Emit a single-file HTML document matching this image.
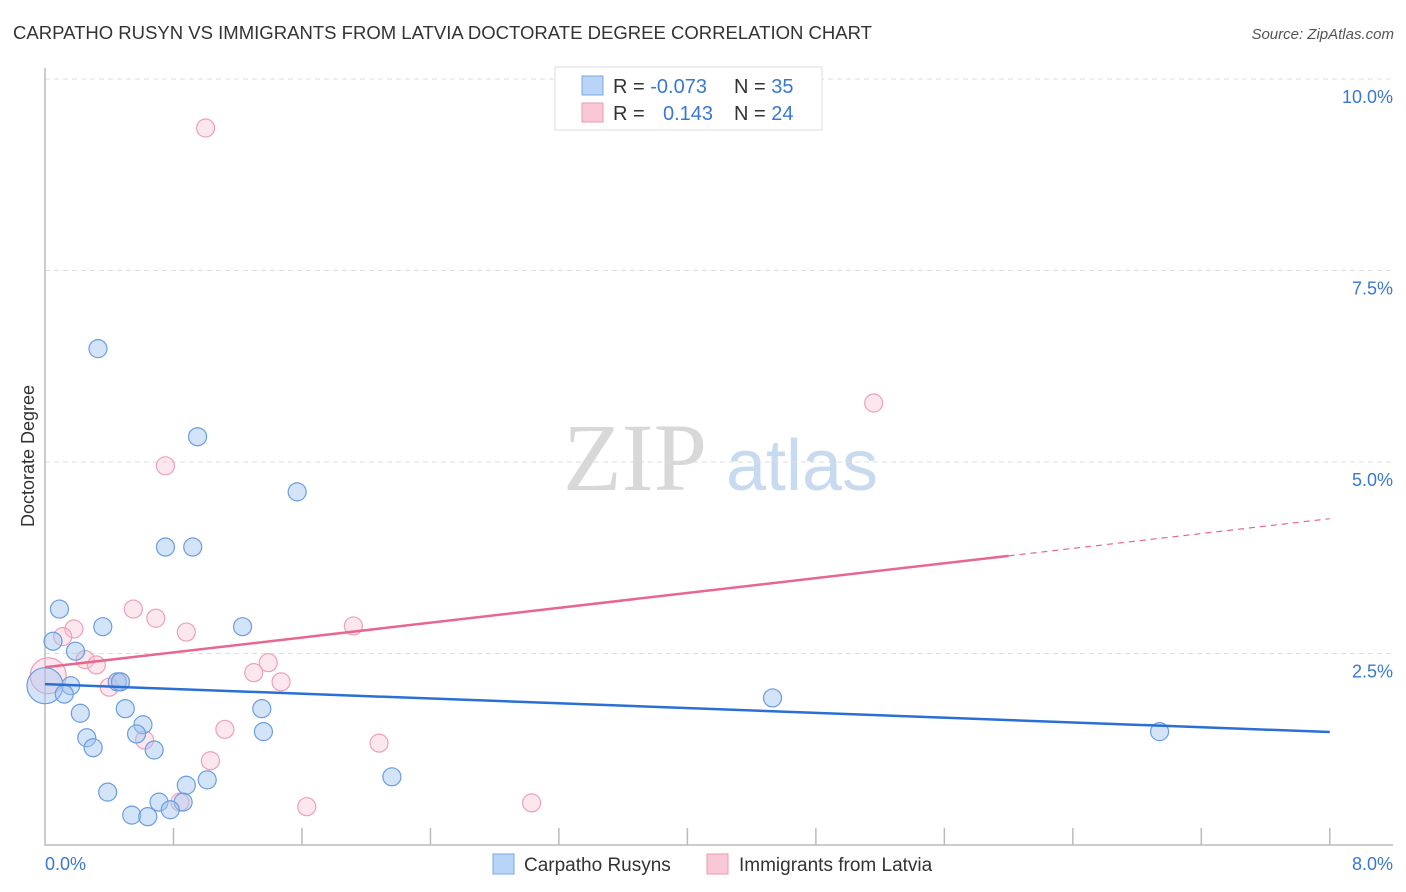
<!DOCTYPE html>
<html><head><meta charset="utf-8"><style>
body{margin:0;background:#fff;font-family:"Liberation Sans",sans-serif}
svg{display:block}
</style></head><body>
<svg id="c" width="1406" height="892" viewBox="0 0 1406 892">
<text x="13" y="39" font-size="18" fill="#333" textLength="859" lengthAdjust="spacingAndGlyphs">CARPATHO RUSYN VS IMMIGRANTS FROM LATVIA DOCTORATE DEGREE CORRELATION CHART</text>
<text x="1394" y="39" font-size="15" fill="#555" font-style="italic" text-anchor="end">Source: ZipAtlas.com</text>
<text x="34" y="456" font-size="18" fill="#333" text-anchor="middle" transform="rotate(-90 34 456)">Doctorate Degree</text>
<g>
<text x="635" y="490" font-size="96" font-family="Liberation Serif" fill="#d8d8d8" text-anchor="middle">ZIP</text>
<text x="802" y="490" font-size="72" fill="#c8daf0" text-anchor="middle">atlas</text>
</g>
<g id="grid"></g><g id="marks"></g>
<g>
<rect x="555" y="67" width="267" height="63" fill="#fff" stroke="#ddd"/>
<rect x="582" y="76" width="21" height="19" fill="#b8d4f6" stroke="#7aa8e4"/>
<rect x="582" y="103" width="21" height="19" fill="#f9c8d6" stroke="#ec9ab3"/>
<text x="613" y="93" font-size="20" fill="#333">R = <tspan fill="#3a78d0">-0.073</tspan></text>
<text x="734" y="93" font-size="20" fill="#333">N = <tspan fill="#3a78d0">35</tspan></text>
<text x="613" y="120" font-size="20" fill="#333">R = <tspan fill="#3a78d0" x="663">0.143</tspan></text>
<text x="734" y="120" font-size="20" fill="#333">N = <tspan fill="#3a78d0">24</tspan></text>
</g>
<g>
<rect x="493" y="854" width="21" height="20" fill="#b8d4f6" stroke="#7aa8e4"/>
<text x="524" y="871" font-size="19" fill="#333">Carpatho Rusyns</text>
<rect x="707" y="854" width="21" height="20" fill="#f9c8d6" stroke="#ec9ab3"/>
<text x="739" y="871" font-size="19" fill="#333">Immigrants from Latvia</text>
</g>
</svg>
<script>
const blueX=[0.33,0.95,1.57,0.75,0.92,0.09,0.36,1.23,0.05,0.19,0.0,0.16,0.12,0.45,0.47,4.53,0.22,0.50,1.35,0.61,0.26,0.57,1.36,0.30,0.68,6.94,2.16,0.88,1.01,0.39,0.71,0.86,0.78,0.54,0.64];
const blueY=[6.48,5.33,4.61,3.89,3.89,3.08,2.85,2.85,2.66,2.53,2.08,2.08,1.97,2.13,2.13,1.92,1.72,1.78,1.78,1.57,1.40,1.45,1.48,1.27,1.24,1.48,0.89,0.78,0.85,0.69,0.56,0.56,0.46,0.39,0.37];
const pinkX=[1.00,5.16,0.75,0.55,0.69,0.88,1.92,0.18,0.11,0.25,0.32,1.39,1.30,1.47,0.40,0.47,0.62,1.12,1.03,2.08,0.84,1.63,3.03,0.02];
const pinkY=[9.36,5.77,4.95,3.08,2.96,2.78,2.86,2.82,2.72,2.42,2.35,2.38,2.25,2.13,2.06,2.13,1.37,1.51,1.10,1.33,0.56,0.50,0.55,2.21];
const blueTrend=[2.10,1.475];
const pinkTrend=[2.32,4.26];
const pinkSolidEnd=6.0;
const yTicks=[2.5,5.0,7.5,10.0];
const xTickLabels=["0.0%","8.0%"];
const X=v=>45+v*160.6, Y=v=>845-v*76.6;
const NS="http://www.w3.org/2000/svg";
function mk(t,a,p){const e=document.createElementNS(NS,t);for(const k in a)e.setAttribute(k,a[k]);p.appendChild(e);return e;}
const g=document.getElementById('grid'), m=document.getElementById('marks');
yTicks.forEach(v=>{
 const l=mk('line',{x1:45,x2:1393,y1:Y(v),y2:Y(v),stroke:'#ddd','stroke-dasharray':'5,4'},g);
 
 
 const t=mk('text',{x:1393,y:Y(v)+24,'font-size':18,fill:'#3a78d0','text-anchor':'end'},g);
 t.textContent=v.toFixed(1)+'%';
 
 
});
const ax=mk('path',{d:'M45 68V845H1393',fill:'none',stroke:'#bbb','stroke-width':1.5},g);


for(let i=1;i<=10;i++){const v=i*0.8;const t=mk('line',{x1:X(v),x2:X(v),y1:828,y2:845,stroke:'#bbb','stroke-width':1.5},g);
 
 }
[[0,'start',45],[8,'end',1393]].forEach((d,i)=>{const t=mk('text',{x:d[2],y:870,'font-size':18,fill:'#3a78d0','text-anchor':d[1]},g);t.textContent=xTickLabels[i];
 
 });
function pts(xs,ys,fill,stroke,name){xs.forEach((x,i)=>{const big=(x<0.03);const c=mk('circle',{cx:X(x),cy:Y(ys[i]),r:big?18:9,fill:fill,stroke:stroke,'stroke-width':1.2},m);
 
 });}
pts(pinkX,pinkY,'rgba(248,185,205,0.35)','#eda0b6','latvia-point');
pts(blueX,blueY,'rgba(160,196,240,0.45)','#6a9de0','rusyn-point');
const bl=mk('line',{x1:X(0),y1:Y(blueTrend[0]),x2:X(8),y2:Y(blueTrend[1]),stroke:'#2a6fd6','stroke-width':2.5},m);


const py=v=>pinkTrend[0]+(pinkTrend[1]-pinkTrend[0])*v/8;
const pl=mk('line',{x1:X(0),y1:Y(py(0)),x2:X(pinkSolidEnd),y2:Y(py(pinkSolidEnd)),stroke:'#e8678f','stroke-width':2.5},m);


const pd=mk('line',{x1:X(pinkSolidEnd),y1:Y(py(pinkSolidEnd)),x2:X(8),y2:Y(py(8)),stroke:'#e8678f','stroke-width':1.2,'stroke-dasharray':'6,5'},m);


</script>
</body></html>
